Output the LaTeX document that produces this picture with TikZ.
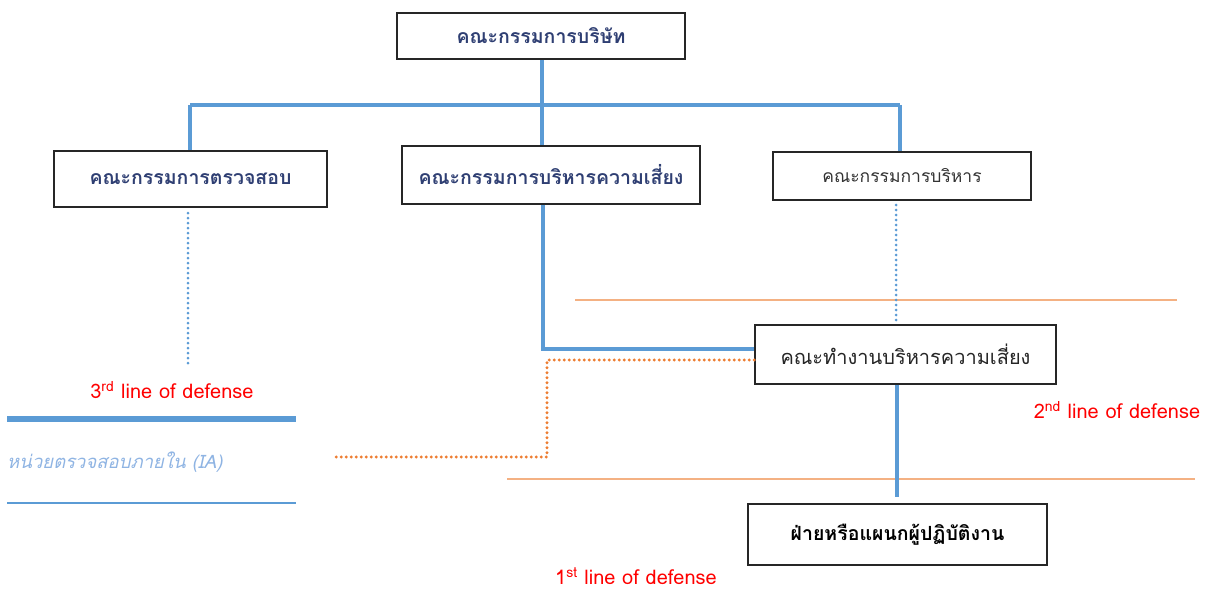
\documentclass[tikz,border=0pt]{standalone}
\usepackage{fontspec}
\newfontfamily\thai[Script=Thai]{Loma}
\definecolor{lblue}{HTML}{5B9BD5}
\definecolor{navy}{HTML}{2F3F73}
\definecolor{ltorange}{HTML}{F4B183}
\definecolor{dorange}{HTML}{ED7D31}
\definecolor{iablue}{HTML}{8FB4E3}
\begin{document}
\begin{tikzpicture}[x=1pt,y=-1pt,
  box/.style={draw=black!85,line width=1.6pt,fill=white,inner sep=0pt,font=\thai\fontsize{20}{22}\selectfont},
  boldbox/.style={box,text=navy,font=\thai\bfseries\fontsize{19.5}{22}\selectfont},
  bl/.style={draw=lblue,line width=3.5pt},
  bdot/.style={draw=lblue,line width=3pt,line cap=round,dash pattern=on 0pt off 5pt},
  odot/.style={draw=dorange,line width=3.2pt,line cap=round,dash pattern=on 0pt off 5pt},
  oline/.style={draw=ltorange,line width=1.2pt},
  red/.style={text=red,font=\thai\fontsize{20}{22}\selectfont,inner sep=0pt}
]
\useasboundingbox (0,0) rectangle (1211,595);
% nodes
\node[boldbox,minimum width=288,minimum height=46] (board) at (541,36) {คณะกรรมการบริษัท};
\node[boldbox,minimum width=273,minimum height=56] (audit) at (190.5,179) {คณะกรรมการตรวจสอบ};
\node[boldbox,minimum width=298,minimum height=58] (rmc) at (551,175) {คณะกรรมการบริหารความเสี่ยง};
\node[box,text=black!80,font=\thai\fontsize{17.5}{20}\selectfont,minimum width=258,minimum height=48] (exec) at (902,176) {คณะกรรมการบริหาร};
\node[box,text=black!85,minimum width=301,minimum height=59] (rwg) at (905.5,354.5) {คณะทำงานบริหารความเสี่ยง};
\node[box,text=black,font=\thai\bfseries\fontsize{19.5}{22}\selectfont,minimum width=299,minimum height=61] (ops) at (897.5,534.5) {ฝ่ายหรือแผนกผู้ปฏิบัติงาน};
\node[red] (l3) at (172,390) {3\textsuperscript{rd} line of defense};
\node[red] (l2) at (1117,410) {2\textsuperscript{nd} line of defense};
\node[red] (l1) at (636,576) {1\textsuperscript{st} line of defense};
\node[text=iablue,font=\thai\itshape\fontsize{18.5}{20}\selectfont,anchor=west,inner sep=0pt] (ia) at (7,462) {หน่วยตรวจสอบภายใน (IA)};
% coordinates
\coordinate (busL) at (190,105);
\coordinate (busR) at (900,105);
\coordinate (a3) at (188,367);
\coordinate (k1) at (543,349);
\coordinate (o1) at (547,360);
\coordinate (o2) at (547,457);
\coordinate (iaEnd) at (335,457);
\coordinate (opsTop) at (897,497);
% horizontal rules
\draw[oline] (575,300) -- (1177,300);
\draw[oline] (507,479) -- (1195,479);
\draw[draw=lblue,line width=5.5pt] (7,419) -- (296,419);
\draw[draw=lblue,line width=1.8pt] (7,503) -- (296,503);
% connectors
\draw[bl] (board.south -| 542,0) -- (542,0 |- rmc.north);
\draw[bl] (busL) -- (busR);
\draw[bl] (busL) -- (busL |- audit.north);
\draw[bl] (busR) -- (busR |- exec.north);
\draw[bdot] (188,213) -- (a3);
\draw[bdot] (896,205) -- (896,321);
\draw[bl] (k1 |- rmc.south) -- (k1) -- (k1 -| rwg.west);
\draw[odot] (o1 -| rwg.west) -- (o1) -- (o2) -- (iaEnd);
\draw[bl] (opsTop |- rwg.south) -- (opsTop);
\end{tikzpicture}
\end{document}
